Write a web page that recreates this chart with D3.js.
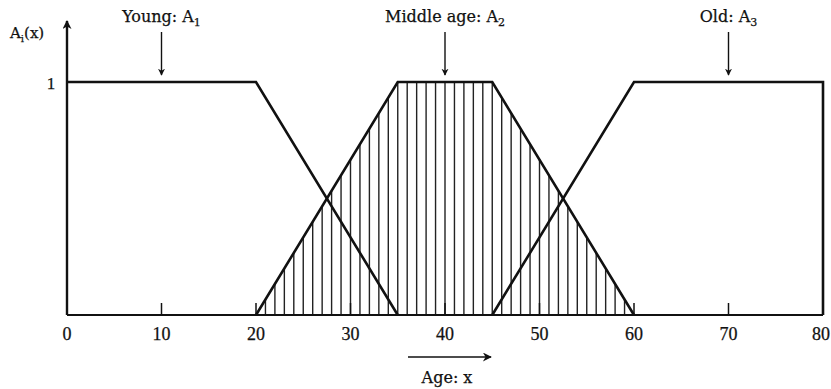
<!DOCTYPE html>
<html>
<head>
<meta charset="utf-8">
<script src="https://cdn.jsdelivr.net/npm/d3@7"></script>
<style>
  body { margin: 0; background: #fff; }
  text { font-family: "Liberation Serif", "DejaVu Serif", serif; fill: #111; stroke: #111; stroke-width: 0.25; }
  text.lab { font-family: "DejaVu Serif", serif; }
</style>
</head>
<body>
<svg id="chart" width="831" height="389"></svg>
<script>
// membership functions (age, degree)
var youngPts  = [[0, 1], [20, 1], [35, 0]];
var middlePts = [[20, 0], [35, 1], [45, 1], [60, 0]];
var oldPts    = [[45, 0], [60, 1], [80, 1], [80, 0]];

var ageTicks = [0, 10, 20, 30, 40, 50, 60, 70, 80];

// labels pointing at the sets
var setNames = ["Young: A", "Middle age: A", "Old: A"];
var setSubs  = ["1", "2", "3"];
var setAges  = [10, 40, 70];

var svg = d3.select("#chart");

var x = d3.scaleLinear().domain([0, 80]).range([67, 823]);
var y = d3.scaleLinear().domain([0, 1]).range([315, 82]);

var line = d3.line()
    .x(function(d) { return x(d[0]); })
    .y(function(d) { return y(d[1]); });

var defs = svg.append("defs");
defs.append("marker")
    .attr("id", "arrow")
    .attr("viewBox", "0 0 10 10")
    .attr("refX", 9).attr("refY", 5)
    .attr("markerWidth", 7).attr("markerHeight", 8)
    .attr("markerUnits", "userSpaceOnUse")
    .attr("orient", "auto")
  .append("path")
    .attr("d", "M0,0 L10,5 L0,10 L3,5 Z")
    .attr("fill", "#111");

defs.append("marker")
    .attr("id", "arrowBig")
    .attr("viewBox", "0 0 10 10")
    .attr("refX", 9).attr("refY", 5)
    .attr("markerWidth", 12).attr("markerHeight", 9)
    .attr("markerUnits", "userSpaceOnUse")
    .attr("orient", "auto")
  .append("path")
    .attr("d", "M0,0 L10,5 L0,10 L3,5 Z")
    .attr("fill", "#111");

// hatching of the middle-age set: one vertical stroke per year
var middleFn = function(a) {
  if (a <= 20 || a >= 60) return 0;
  if (a < 35) return (a - 20) / 15;
  if (a <= 45) return 1;
  return (60 - a) / 15;
};
svg.append("g").selectAll("line")
    .data(d3.range(21, 60))
  .enter().append("line")
    .attr("x1", function(d) { return x(d); })
    .attr("x2", function(d) { return x(d); })
    .attr("y1", y(0))
    .attr("y2", function(d) { return y(middleFn(d)); })
    .attr("stroke", "#222")
    .attr("stroke-width", 1.4);

// x axis with short upward ticks
svg.append("line")
    .attr("x1", x(0)).attr("x2", x(80))
    .attr("y1", y(0)).attr("y2", y(0))
    .attr("stroke", "#111").attr("stroke-width", 2.2);

svg.append("g").selectAll("line")
    .data(ageTicks.slice(1, -1))
  .enter().append("line")
    .attr("x1", function(d) { return x(d); })
    .attr("x2", function(d) { return x(d); })
    .attr("y1", y(0)).attr("y2", y(0) - 12)
    .attr("stroke", "#111").attr("stroke-width", 1.5);

// the "80" sits right at the page edge, so anchor it at its end
svg.append("g").selectAll("text")
    .data(ageTicks)
  .enter().append("text")
    .attr("x", function(d, i) { return i === ageTicks.length - 1 ? 830 : x(d); })
    .attr("y", 340)
    .attr("text-anchor", function(d, i) { return i === ageTicks.length - 1 ? "end" : "middle"; })
    .attr("font-size", 18)
    .text(function(d) { return d; });

// y axis with arrow
svg.append("line")
    .attr("x1", x(0)).attr("x2", x(0))
    .attr("y1", y(0)).attr("y2", 21)
    .attr("stroke", "#111").attr("stroke-width", 2.4)
    .attr("marker-end", "url(#arrowBig)");

svg.append("text")
    .attr("x", 51).attr("y", 89)
    .attr("text-anchor", "middle")
    .attr("font-size", 17)
    .text("1");

var ylab = svg.append("text").attr("class", "lab")
    .attr("x", 10).attr("y", 38).attr("font-size", 15);
ylab.append("tspan").text("A");
ylab.append("tspan").attr("font-size", 10).attr("dy", 4).text("i");
ylab.append("tspan").attr("dy", -4).text("(x)");

// membership curves
[youngPts, middlePts, oldPts].forEach(function(pts) {
  svg.append("path")
      .attr("d", line(pts))
      .attr("fill", "none")
      .attr("stroke", "#111")
      .attr("stroke-width", 2.6)
      .attr("stroke-linejoin", "miter");
});

// set labels with arrows down to the curves
setAges.forEach(function(a, i) {
  var t = svg.append("text")
      .attr("class", "lab")
      .attr("x", x(a)).attr("y", 22)
      .attr("text-anchor", "middle")
      .attr("font-size", 16);
  t.append("tspan").text(setNames[i]);
  t.append("tspan").attr("font-size", 11).attr("dy", 4).text(setSubs[i]);

  svg.append("line")
      .attr("x1", x(a)).attr("x2", x(a))
      .attr("y1", 32).attr("y2", 75)
      .attr("stroke", "#111").attr("stroke-width", 1.4)
      .attr("marker-end", "url(#arrow)");
});

// "Age: x" arrow under the axis
svg.append("line")
    .attr("x1", 408).attr("x2", 491)
    .attr("y1", 357).attr("y2", 357)
    .attr("stroke", "#111").attr("stroke-width", 1.4)
    .attr("marker-end", "url(#arrowBig)");

svg.append("text")
    .attr("class", "lab")
    .attr("x", 447).attr("y", 383)
    .attr("text-anchor", "middle")
    .attr("font-size", 16)
    .text("Age: x");
</script>
</body>
</html>
